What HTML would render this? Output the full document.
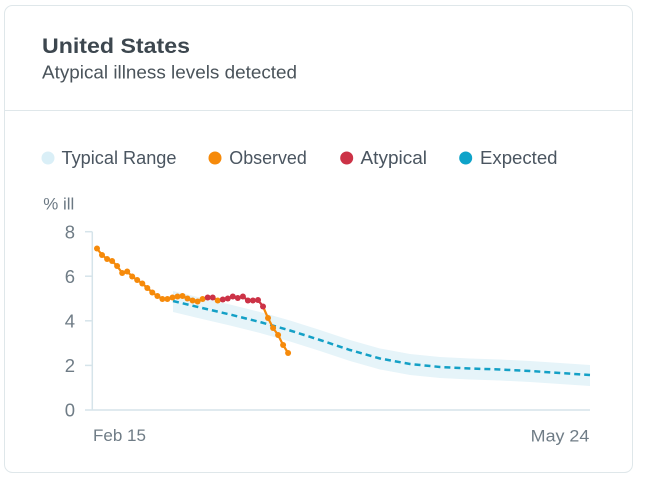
<!DOCTYPE html>
<html><head><meta charset="utf-8"><style>
html,body{margin:0;padding:0;background:#fff;}
svg{display:block;}
text{font-family:"Liberation Sans",sans-serif;}
</style></head><body>
<svg width="648" height="484" viewBox="0 0 648 484" xmlns="http://www.w3.org/2000/svg">
<rect x="4.5" y="5.5" width="628" height="467" rx="8" ry="8" fill="#fff" stroke="#dfe7ea" stroke-width="1"/>
<line x1="5" y1="110.5" x2="632" y2="110.5" stroke="#dfe7ea" stroke-width="1"/>
<text x="42" y="53" font-size="21" font-weight="bold" fill="#3d474f" textLength="148" lengthAdjust="spacingAndGlyphs">United States</text>
<text x="42" y="78.5" font-size="18" fill="#4b545b" textLength="255" lengthAdjust="spacingAndGlyphs">Atypical illness levels detected</text>

<circle cx="48" cy="158" r="6.5" fill="#daeff7"/>
<text x="61.5" y="163.8" font-size="18" fill="#4a5560" textLength="115" lengthAdjust="spacingAndGlyphs">Typical Range</text>
<circle cx="215" cy="158" r="6.5" fill="#f68a0a"/>
<text x="229.3" y="163.8" font-size="18" fill="#4a5560" textLength="77.5" lengthAdjust="spacingAndGlyphs">Observed</text>
<circle cx="346.7" cy="158" r="6.5" fill="#cc3246"/>
<text x="360.5" y="163.8" font-size="18" fill="#4a5560" textLength="66.5" lengthAdjust="spacingAndGlyphs">Atypical</text>
<circle cx="465.7" cy="158" r="6.5" fill="#0ea3c9"/>
<text x="480" y="163.8" font-size="18" fill="#4a5560" textLength="77.5" lengthAdjust="spacingAndGlyphs">Expected</text>

<text x="43.3" y="209.3" font-size="17" fill="#6b7883" textLength="31" lengthAdjust="spacingAndGlyphs">% ill</text>

<!-- axes -->
<g stroke="#d6e4ea" stroke-width="1.5" fill="none">
<line x1="92.3" y1="231.7" x2="92.3" y2="410"/>
<line x1="85" y1="410" x2="590" y2="410"/>
<line x1="85" y1="231.7" x2="92.3" y2="231.7"/>
<line x1="85" y1="276.2" x2="92.3" y2="276.2"/>
<line x1="85" y1="320.8" x2="92.3" y2="320.8"/>
<line x1="85" y1="365.4" x2="92.3" y2="365.4"/>
</g>
<g font-size="18.5" fill="#6f7c86" text-anchor="end">
<text x="75" y="238.3">8</text>
<text x="75" y="282.8">6</text>
<text x="75" y="327.4">4</text>
<text x="75" y="372">2</text>
<text x="75" y="416.6">0</text>
</g>
<text x="93" y="441" font-size="17" fill="#6f7c86" textLength="53" lengthAdjust="spacingAndGlyphs">Feb 15</text>
<text x="530.7" y="441.5" font-size="17" fill="#6f7c86" textLength="58.6" lengthAdjust="spacingAndGlyphs">May 24</text>

<!-- typical band -->
<polygon fill="#e6f4f9" points="173,291 200,297.5 230,304.5 260,312 290,320.5 320,330 350,340 380,348.5 410,354 440,357 470,358.5 500,359.5 530,361 560,363 590,365 590,386 560,384 530,382 500,380.5 470,379.5 440,378 410,375 380,369.5 350,361 320,351 290,341.5 260,333 230,325.5 200,318.5 173,312"/>
<polyline fill="none" stroke="#14a0c6" stroke-width="2.5" stroke-dasharray="6 4" points="173,301 200,307.5 230,314.5 260,322 290,330.5 320,340 350,350 380,358.5 410,364 440,367 470,368.5 500,369.5 530,371 560,373 590,375"/>

<!-- observed -->
<polyline fill="none" stroke="#f68a0a" stroke-width="2.2" stroke-linejoin="round" points="97,248.5 102,255 107.1,259 112.1,261 117.1,266 122.2,273 127.2,271.5 132.2,276.5 137.2,280 142.3,283.5 147.3,288 152.3,292.5 157.4,296 162.4,299 167.4,299 172.5,297.5 177.5,296.5 182.5,296 187.5,298.5 192.6,300.5 197.6,301.5 202.6,299 207.7,297.5 212.7,297.5 217.7,300.5 222.8,299.5 227.8,298.5 232.8,296.5 237.8,298 242.9,296.5 247.9,300.5 252.9,300.5 258,300 263,306.5 268,318 273.1,328 278.1,335 283.1,345 288.1,353"/>
<polyline fill="none" stroke="#cc3246" stroke-width="2.2" points="207.7,297.5 212.7,297.5"/>
<polyline fill="none" stroke="#cc3246" stroke-width="2.2" stroke-linejoin="round" points="222.8,299.5 227.8,298.5 232.8,296.5 237.8,298 242.9,296.5 247.9,300.5 252.9,300.5 258,300 263,306.5"/>
<g fill="#f68a0a">
<circle cx="97" cy="248.5" r="3"/><circle cx="102" cy="255" r="3"/><circle cx="107.1" cy="259" r="3"/><circle cx="112.1" cy="261" r="3"/><circle cx="117.1" cy="266" r="3"/><circle cx="122.2" cy="273" r="3"/><circle cx="127.2" cy="271.5" r="3"/><circle cx="132.2" cy="276.5" r="3"/><circle cx="137.2" cy="280" r="3"/><circle cx="142.3" cy="283.5" r="3"/><circle cx="147.3" cy="288" r="3"/><circle cx="152.3" cy="292.5" r="3"/><circle cx="157.4" cy="296" r="3"/><circle cx="162.4" cy="299" r="3"/><circle cx="167.4" cy="299" r="3"/><circle cx="172.5" cy="297.5" r="3"/><circle cx="177.5" cy="296.5" r="3"/><circle cx="182.5" cy="296" r="3"/><circle cx="187.5" cy="298.5" r="3"/><circle cx="192.6" cy="300.5" r="3"/><circle cx="197.6" cy="301.5" r="3"/><circle cx="202.6" cy="299" r="3"/><circle cx="217.7" cy="300.5" r="3"/><circle cx="268" cy="318" r="3"/><circle cx="273.1" cy="328" r="3"/><circle cx="278.1" cy="335" r="3"/><circle cx="283.1" cy="345" r="3"/><circle cx="288.1" cy="353" r="3"/>
</g>
<g fill="#cc3246">
<circle cx="207.7" cy="297.5" r="3"/><circle cx="212.7" cy="297.5" r="3"/><circle cx="222.8" cy="299.5" r="3"/><circle cx="227.8" cy="298.5" r="3"/><circle cx="232.8" cy="296.5" r="3"/><circle cx="237.8" cy="298" r="3"/><circle cx="242.9" cy="296.5" r="3"/><circle cx="247.9" cy="300.5" r="3"/><circle cx="252.9" cy="300.5" r="3"/><circle cx="258" cy="300" r="3"/><circle cx="263" cy="306.5" r="3"/>
</g>
</svg>
</body></html>
